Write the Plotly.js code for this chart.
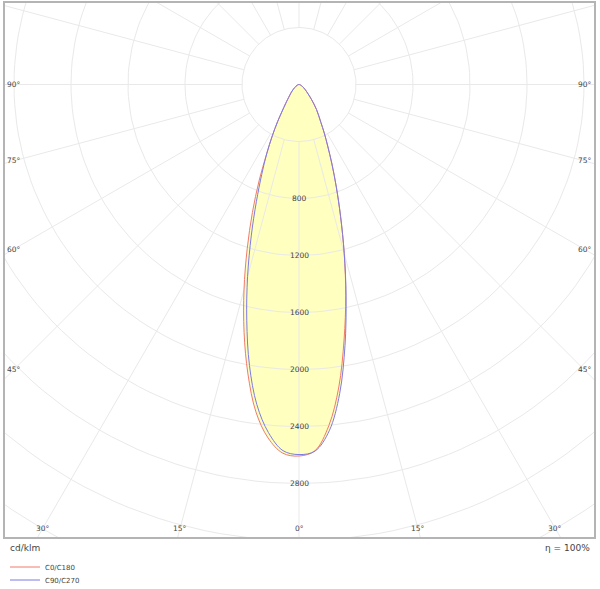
<!DOCTYPE html>
<html>
<head>
<meta charset="utf-8">
<script src="https://cdn.plot.ly/plotly-3.0.1.min.js"></script>
<style>
  body { margin: 0; background: #fff; }
  #chart { width: 600px; height: 589px; }
</style>
</head>
<body>
<div id="chart"></div>
<script>
// gamma angles (deg from nadir) and luminous intensity (cd/klm)
const gamma = [0, 2.5, 5, 7.5, 10, 12.5, 15, 17.5, 20, 22.5, 25, 27.5, 30, 35, 40, 45, 50, 55, 60, 70, 80, 90];
const c0   = [2607, 2572, 2403, 2141, 1821, 1516, 1225, 970, 766, 604, 477, 384, 307, 214, 135, 85, 58, 40, 28, 12, 4, 0];
const c180 = [2612, 2590, 2490, 2317, 2063, 1781, 1491, 1209, 957, 732, 537, 405, 299, 164, 105, 75, 52, 36, 26, 12, 4, 0];
const c90  = [2597, 2575, 2439, 2187, 1859, 1526, 1227, 970, 766, 604, 477, 384, 307, 214, 135, 85, 58, 40, 28, 12, 4, 0];
const c270 = [2597, 2572, 2453, 2266, 2002, 1694, 1394, 1114, 874, 684, 537, 405, 299, 164, 105, 75, 52, 36, 26, 12, 4, 0];

const gridRadii = [400, 800, 1200, 1600, 2000, 2400, 2800, 3200, 3600, 4000];
const radialLabels = [800, 1200, 1600, 2000, 2400, 2800];
const angleLabelsSide = [90, 75, 60, 45];
const angleLabelsBottom = [30, 15, 0, 15, 30];

const cdPerPx = 400 / 57;
const rad = (d) => d * Math.PI / 180;

// closed curve: right half from 90 down to 0, left half from 0 back up to 90
function curve(right, left) {
  const x = [], y = [];
  for (let i = gamma.length - 1; i >= 0; i--) {
    x.push(right[i] * Math.sin(rad(gamma[i])));
    y.push(-right[i] * Math.cos(rad(gamma[i])));
  }
  for (let i = 1; i < gamma.length; i++) {
    x.push(-left[i] * Math.sin(rad(gamma[i])));
    y.push(-left[i] * Math.cos(rad(gamma[i])));
  }
  return { x, y };
}

const gx = [], gy = [];
gridRadii.forEach((r) => {
  for (let a = 0; a <= 360; a += 2) {
    gx.push(r * Math.sin(rad(a)));
    gy.push(-r * Math.cos(rad(a)));
  }
  gx.push(null); gy.push(null);
});
const sx = [], sy = [];
for (let a = 0; a < 360; a += 15) {
  sx.push(400 * Math.sin(rad(a)), 4000 * Math.sin(rad(a)), null);
  sy.push(-400 * Math.cos(rad(a)), -4000 * Math.cos(rad(a)), null);
}

const red = curve(c0, c180);
const blue = curve(c90, c270);
const fillColor = 'rgb(255,255,192)';
const lineShape = { shape: 'spline', smoothing: 1 };

const traces = [
  { x: red.x, y: red.y, mode: 'lines', fill: 'toself', fillcolor: fillColor, line: { width: 0, ...lineShape }, showlegend: false, hoverinfo: 'skip' },
  { x: blue.x, y: blue.y, mode: 'lines', fill: 'toself', fillcolor: fillColor, line: { width: 0, ...lineShape }, showlegend: false, hoverinfo: 'skip' },
  { x: gx, y: gy, mode: 'lines', line: { color: '#e9e9e9', width: 1 }, showlegend: false, hoverinfo: 'skip' },
  { x: sx, y: sy, mode: 'lines', line: { color: '#e9e9e9', width: 1 }, showlegend: false, hoverinfo: 'skip' },
  { x: red.x, y: red.y, mode: 'lines', name: 'C0/C180', legend: 'legend', line: { color: '#f07b6b', width: 1, ...lineShape } },
  { x: blue.x, y: blue.y, mode: 'lines', name: 'C90/C270', legend: 'legend2', line: { color: '#7b7be8', width: 1, ...lineShape } },
];

const txt = { family: 'DejaVu Sans, Verdana, sans-serif', size: 7.5, color: '#444' };
const annotations = [];
radialLabels.forEach((r) => {
  annotations.push({ x: 0, y: -r, text: String(r), showarrow: false, font: txt });
});
angleLabelsSide.forEach((a) => {
  const yv = a === 90 ? 0 : -(285 * cdPerPx) / Math.tan(rad(a));
  annotations.push({ x: -285 * cdPerPx, y: yv, text: a + '°', showarrow: false, font: txt });
  annotations.push({ x: 286 * cdPerPx, y: yv, text: a + '°', showarrow: false, font: txt });
});
angleLabelsBottom.forEach((a, i) => {
  const sign = i < 2 ? -1 : 1;
  annotations.push({ x: sign * 444 * cdPerPx * Math.tan(rad(a)), y: -444 * cdPerPx, text: a + '°', showarrow: false, font: txt });
});
annotations.push({ xref: 'paper', yref: 'paper', x: 0, y: -0.021, xanchor: 'left', yanchor: 'middle', xshift: 3, text: 'cd/klm', showarrow: false, font: { ...txt, size: 9 } });
annotations.push({ xref: 'paper', yref: 'paper', x: 1, y: -0.021, xanchor: 'right', yanchor: 'middle', xshift: -2, text: 'η = 100%', showarrow: false, font: { ...txt, size: 9 } });

const legendBase = {
  xref: 'container', yref: 'container', x: 5 / 600, xanchor: 'left', yanchor: 'middle',
  font: { ...txt, size: 7 }, bgcolor: 'rgba(0,0,0,0)',
};

const layout = {
  width: 600,
  height: 589,
  margin: { l: 5, r: 6, t: 3, b: 52, autoexpand: false },
  paper_bgcolor: '#fff',
  plot_bgcolor: '#fff',
  xaxis: {
    range: [-294 * cdPerPx, 295 * cdPerPx],
    showgrid: false, zeroline: false, showticklabels: false, ticks: '',
    showline: true, mirror: true, linecolor: '#b4b4b4', linewidth: 2,
  },
  yaxis: {
    range: [-452.5 * cdPerPx, 81.5 * cdPerPx],
    showgrid: false, zeroline: false, showticklabels: false, ticks: '',
    showline: true, mirror: true, linecolor: '#b4b4b4', linewidth: 2,
  },
  showlegend: true,
  legend: { ...legendBase, y: 1 - 567 / 589 },
  legend2: { ...legendBase, y: 1 - 580 / 589 },
  annotations,
};

Plotly.newPlot('chart', traces, layout, { displayModeBar: false, staticPlot: true });
</script>
</body>
</html>
